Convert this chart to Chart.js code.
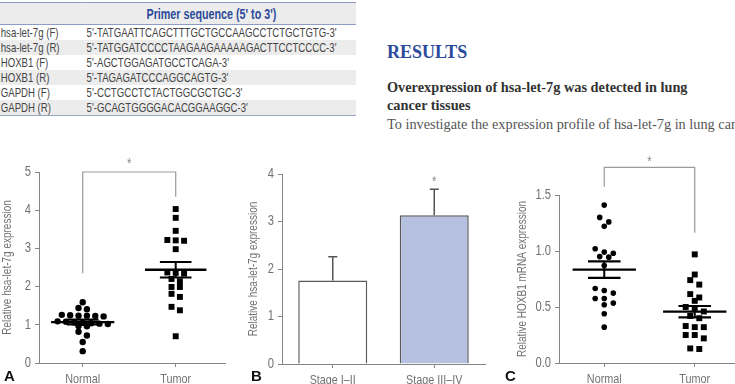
<!DOCTYPE html>
<html>
<head>
<meta charset="utf-8">
<script src="https://cdn.jsdelivr.net/npm/chart.js@4.4.1/dist/chart.umd.min.js"></script>
<style>
  html, body { margin: 0; padding: 0; background: #fff; }
  #page { position: relative; width: 735px; height: 384px; overflow: hidden; }
  .abs { position: absolute; white-space: nowrap; }
  canvas { position: absolute; }

  /* no narrow face installed: squeeze Liberation Sans sideways instead */
  table.primers {
    position: absolute; left: 0; top: 2px; width: 481px;
    transform: scaleX(0.74); transform-origin: 0 0;
    border-collapse: collapse; white-space: nowrap;
    font-family: 'Liberation Sans', Arial, sans-serif;
    font-size: 13px; color: #444;
    border-top: 1.5px solid #8c9cc6; border-bottom: 1px solid #9aa6c6;
  }
  table.primers th {
    height: 21px; padding: 0 0 0 82px; text-align: left;
    font-size: 14.5px; font-weight: bold; color: #2c4a9a;
    background: #ececec; border-bottom: 1px solid #8c9cc6;
  }
  table.primers td { height: 15px; padding: 0 0 0 1px; line-height: 15px; }
  table.primers td:first-child { width: 115px; }
  table.primers tr.alt td { background: #ececec; }

  .serif { font-family: 'Liberation Serif', 'DejaVu Serif', serif; }
  .panel-tag { font-family: 'Liberation Sans', Arial, sans-serif; font-weight: bold; font-size: 15px; color: #111; }
</style>
</head>
<body>
<div id="page">

  <table class="primers">
    <tr><th></th><th>Primer sequence (5' to 3')</th></tr>
    <tr><td>hsa-let-7g (F)</td><td>5'-TATGAATTCAGCTTTGCTGCCAAGCCTCTGCTGTG-3'</td></tr>
    <tr class="alt"><td>hsa-let-7g (R)</td><td>5'-TATGGATCCCCTAAGAAGAAAAAGACTTCCTCCCC-3'</td></tr>
    <tr><td>HOXB1 (F)</td><td>5'-AGCTGGAGATGCCTCAGA-3'</td></tr>
    <tr class="alt"><td>HOXB1 (R)</td><td>5'-TAGAGATCCCAGGCAGTG-3'</td></tr>
    <tr><td>GAPDH (F)</td><td>5'-CCTGCCTCTACTGGCGCTGC-3'</td></tr>
    <tr class="alt"><td>GAPDH (R)</td><td>5'-GCAGTGGGGACACGGAAGGC-3'</td></tr>
  </table>

  <div class="abs serif" style="left:387px; top:43px; font-size:18px; line-height:18px; font-weight:bold; color:#2b4b9a;">RESULTS</div>
  <div class="abs serif" style="left:387px; top:78px; font-size:14.3px; line-height:18px; font-weight:bold; color:#333;">Overexpression of hsa-let-7g was detected in lung<br>cancer tissues</div>
  <div class="abs serif" style="left:387px; top:117px; font-size:14.3px; line-height:15px; color:#555;">To investigate the expression profile of hsa-let-7g in lung cancer</div>

  <canvas id="chartA" width="240" height="234" style="left:0; top:150px;"></canvas>
  <canvas id="chartB" width="250" height="234" style="left:240px; top:150px;"></canvas>
  <canvas id="chartC" width="260" height="234" style="left:490px; top:150px;"></canvas>

  <div class="abs panel-tag" style="left:4px; top:367px;">A</div>
  <div class="abs panel-tag" style="left:251px; top:367px;">B</div>
  <div class="abs panel-tag" style="left:505px; top:367px;">C</div>
</div>

<script>
// ── Data ──────────────────────────────────────────────────────────────────────

// A: hsa-let-7g, normal vs tumor tissue
const catsA    = ['Normal', 'Tumor'];
const normalA  = [1.59, 1.44, 1.41, 1.26, 1.25, 1.24, 1.24, 1.23, 1.22, 1.09, 1.08, 1.06, 1.05,
                  1.04, 1.03, 1.02, 0.97, 0.96, 0.82, 0.72, 0.55, 0.31];
const tumorA   = [4.03, 3.80, 3.46, 3.22, 3.21, 3.20, 2.98, 2.37, 2.36, 2.34, 2.20, 2.14, 1.99,
                  1.99, 1.81, 1.73, 1.47, 1.38, 0.70];
const ticksA   = [0, 1, 2, 3, 4, 5];
const bracketA = [2.35, 5.0, 4.35];   // left leg end, bar level, right leg end
const starA    = 5.32;

// B: hsa-let-7g by clinical stage
const catsB  = ['Stage I–II', 'Stage III–IV'];
const meanB  = [1.76, 3.13];
const errB   = [0.50, 0.55];
const ticksB = [0, 1, 2, 3, 4];
const starB  = 3.91;

// C: HOXB1 mRNA, normal vs tumor tissue
const catsC    = ['Normal', 'Tumor'];
const normalC  = [1.41, 1.30, 1.26, 1.22, 1.02, 0.99, 0.98, 0.95, 0.945, 0.87, 0.665, 0.647,
                  0.624, 0.576, 0.576, 0.535, 0.52, 0.44, 0.32];
const tumorC   = [0.97, 0.79, 0.74, 0.70, 0.615, 0.585, 0.555, 0.50, 0.48, 0.46, 0.42, 0.40,
                  0.33, 0.32, 0.32, 0.25, 0.25, 0.22, 0.13, 0.125];
const ticksC   = [0, 0.5, 1.0, 1.5];
const bracketC = [1.574, 1.747, 1.164];
const starC    = 1.83;

// ── Shared look ───────────────────────────────────────────────────────────────
const SANS     = "'Liberation Sans', Arial, sans-serif";
const SQUEEZE  = 0.8;       // horizontal squeeze to mimic a narrow face
const AXIS_CLR = '#858585';
const TEXT_CLR = '#727272';

Chart.defaults.font.family = SANS;
Chart.defaults.color = TEXT_CLR;
Chart.defaults.animation = false;

// draw every canvas string horizontally condensed (fillText maxWidth squeeze)
const condensePlugin = {
  id: 'condense',
  beforeDraw(chart) {
    const ctx = chart.ctx;
    if (ctx._condensed) return;
    const fill = ctx.fillText.bind(ctx);
    ctx.fillText = function (text, x, y, maxWidth) {
      const w = this.measureText(text).width * SQUEEZE;
      fill(text, x, y, maxWidth !== undefined ? Math.min(maxWidth, w) : w);
    };
    ctx._condensed = true;
  }
};

// Prism-style column scatter: points of similar value share a row, spread sideways
function swarm(vals, center, step, gap) {
  const sorted = [...vals].sort((a, b) => b - a);
  const pts = [];
  let row = [];
  const flush = () => {
    row.forEach((v, i) => pts.push({ x: center + (i - (row.length - 1) / 2) * step, y: v }));
    row = [];
  };
  sorted.forEach(v => {
    if (row.length && row[0] - v >= gap) flush();
    row.push(v);
  });
  flush();
  return pts;
}

function meanSem(vals) {
  const n  = vals.length;
  const m  = vals.reduce((a, b) => a + b, 0) / n;
  const sd = Math.sqrt(vals.reduce((a, b) => a + (b - m) ** 2, 0) / (n - 1));
  return [m, sd / Math.sqrt(n)];
}

const seg = (pts, width, color) => ({
  type: 'line', data: pts, borderColor: color, borderWidth: width,
  pointRadius: 0, tension: 0, clip: false, fill: false,
});

function meanSemSets(vals, c, halfMean, halfCap) {
  const [m, s] = meanSem(vals);
  return [
    seg([{ x: c - halfMean, y: m }, { x: c + halfMean, y: m }], 2.3, '#000'),
    seg([{ x: c - halfCap, y: m + s }, { x: c + halfCap, y: m + s }], 2.2, '#000'),
    seg([{ x: c - halfCap, y: m - s }, { x: c + halfCap, y: m - s }], 2.2, '#000'),
    seg([{ x: c, y: m - s }, { x: c, y: m + s }], 2, '#000'),
  ];
}

const bracketSet = b => seg([{ x: 1, y: b[0] }, { x: 1, y: b[1] }, { x: 2, y: b[1] }, { x: 2, y: b[2] }], 1.2, '#9a9a9a');

const dots = (pts, style, r) => ({
  type: 'scatter', data: pts, pointStyle: style, pointRadius: r,
  backgroundColor: '#000', borderWidth: 0, clip: false,
});

// significance star, centred on the given value
const starPlugin = {
  id: 'star',
  afterDatasetsDraw(chart, args, opts) {
    if (!opts.at) return;
    const { ctx, scales: { x, y } } = chart;
    ctx.save();
    ctx.fillStyle = '#8a8a8a';
    ctx.font = '14px ' + SANS;
    ctx.textAlign = 'center';
    ctx.textBaseline = 'alphabetic';
    ctx.fillText('*', x.getPixelForValue(opts.at[0]), y.getPixelForValue(opts.at[1]) + 8);
    ctx.restore();
  }
};

// upper-only error whiskers for bar panel
const whiskerPlugin = {
  id: 'whisker',
  afterDatasetsDraw(chart, args, opts) {
    if (!opts.err) return;
    const { ctx, scales: { y } } = chart;
    const meta = chart.getDatasetMeta(0);
    ctx.save();
    ctx.strokeStyle = '#555';
    ctx.lineWidth = 1.5;
    meta.data.forEach((bar, i) => {
      const top = y.getPixelForValue(meanB[i] + opts.err[i]);
      ctx.beginPath();
      ctx.moveTo(bar.x, bar.y);
      ctx.lineTo(bar.x, top);
      ctx.moveTo(bar.x - 4.5, top);
      ctx.lineTo(bar.x + 4.5, top);
      ctx.stroke();
    });
    ctx.restore();
  }
};

function yAxis(ticks, max, title, width, fmt) {
  return {
    min: 0, max,
    afterBuildTicks: s => { s.ticks = ticks.map(v => ({ value: v })); },
    afterFit: s => { s.width = width; },
    border: { display: true, color: AXIS_CLR, width: 1 },
    grid: { display: true, drawOnChartArea: false, drawTicks: true, tickLength: 4, color: AXIS_CLR },
    ticks: { padding: 4, color: TEXT_CLR, font: { size: 14 }, callback: fmt || (v => v) },
    title: { display: true, text: title, color: TEXT_CLR, font: { size: 12.5 }, padding: { top: 0, bottom: 0 } },
  };
}

function xCatAxis(cats, min, max) {
  return {
    type: 'linear', min, max,
    afterBuildTicks: s => { s.ticks = cats.map((c, i) => ({ value: i + 1 })); },
    afterFit: s => { s.height = 21; },
    border: { display: true, color: AXIS_CLR, width: 1 },
    grid: { display: true, drawOnChartArea: false, drawTicks: true, tickLength: 4, color: AXIS_CLR },
    ticks: { padding: 4, color: TEXT_CLR, font: { size: 13.5 }, maxRotation: 0, callback: v => cats[v - 1] },
  };
}

// ── Panel A ───────────────────────────────────────────────────────────────────
new Chart(document.getElementById('chartA'), {
  type: 'scatter',
  data: {
    datasets: [
      bracketSet(bracketA),
      dots(swarm(normalA, 1, 0.09, 0.1), 'circle', 3.2),
      dots(swarm(tumorA, 2, 0.09, 0.1), 'rect', 4.2),
      ...meanSemSets(normalA, 1, 0.34, 0.17),
      ...meanSemSets(tumorA, 2, 0.33, 0.17),
    ]
  },
  options: {
    responsive: false,
    layout: { padding: { left: 0, top: 22, right: 15, bottom: 0 } },
    plugins: { legend: { display: false }, tooltip: { enabled: false }, star: { at: [1.5, starA] } },
    scales: {
      x: xCatAxis(catsA, 0.53, 2.53),
      y: yAxis(ticksA, 5, 'Relative hsa-let-7g expression', 39),
    },
  },
  plugins: [condensePlugin, starPlugin],
});

// ── Panel B ───────────────────────────────────────────────────────────────────
new Chart(document.getElementById('chartB'), {
  type: 'bar',
  data: {
    labels: catsB,
    datasets: [{
      data: meanB,
      backgroundColor: ['#ffffff', '#b6c0e0'],
      borderColor: '#5a5a5a',
      borderWidth: 1.5,
      categoryPercentage: 1,
      barPercentage: 0.68,
    }]
  },
  options: {
    responsive: false,
    layout: { padding: { left: 6, top: 24, right: 5, bottom: 0 } },
    plugins: {
      legend: { display: false }, tooltip: { enabled: false },
      star: { at: [1, starB] }, whisker: { err: errB },
    },
    scales: {
      x: {
        afterFit: s => { s.height = 20; },
        border: { display: true, color: AXIS_CLR, width: 1 },
        grid: { display: true, offset: false, drawOnChartArea: false, drawTicks: true, tickLength: 4, color: AXIS_CLR },
        ticks: { padding: 4, color: TEXT_CLR, font: { size: 13.5 }, maxRotation: 0 },
      },
      y: yAxis(ticksB, 4, 'Relative hsa-let-7g expression', 36),
    },
  },
  plugins: [condensePlugin, whiskerPlugin, starPlugin],
});

// ── Panel C ───────────────────────────────────────────────────────────────────
new Chart(document.getElementById('chartC'), {
  type: 'scatter',
  data: {
    datasets: [
      bracketSet(bracketC),
      dots(swarm(normalC, 1, 0.1, 0.045), 'circle', 2.8),
      dots(swarm(tumorC, 2, 0.1, 0.05), 'rect', 4.2),
      ...meanSemSets(normalC, 1, 0.35, 0.18),
      ...meanSemSets(tumorC, 2, 0.35, 0.18),
    ]
  },
  options: {
    responsive: false,
    layout: { padding: { left: 25, top: 45, right: 10, bottom: 0 } },
    plugins: { legend: { display: false }, tooltip: { enabled: false }, star: { at: [1.5, starC] } },
    scales: {
      x: xCatAxis(catsC, 0.5, 2.5),
      y: yAxis(ticksC, 1.5, 'Relative HOXB1 mRNA expression', 44, v => v.toFixed(1)),
    },
  },
  plugins: [condensePlugin, starPlugin],
});
</script>
</body>
</html>
